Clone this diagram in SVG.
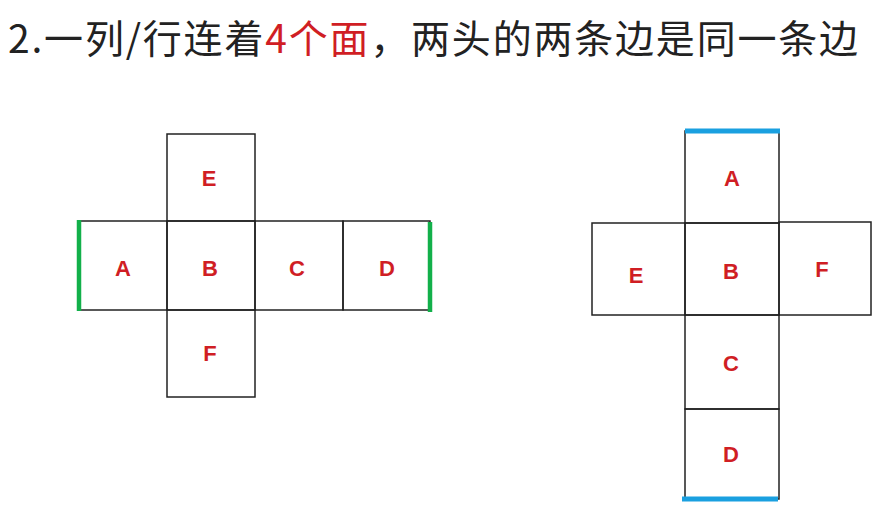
<svg xmlns="http://www.w3.org/2000/svg" width="882" height="518" viewBox="0 0 882 518">
<style>
.cell{fill:none;stroke:#222;stroke-width:1.5}
.lbl{font-family:"Liberation Sans","Noto Sans",sans-serif;font-weight:bold;font-size:22px;fill:#d01e24;text-anchor:middle}
.title{font-family:"Noto Sans CJK SC","Noto Sans",sans-serif;font-size:39px;letter-spacing:1.8px;fill:#222}
.green{stroke:#12b04a;stroke-width:4.5;stroke-linecap:butt}
.blue{stroke:#1aa0e0;stroke-width:5;stroke-linecap:butt}
</style>
<rect width="882" height="518" fill="#ffffff"/>
<text class="title" x="8" y="53">2.一列/行连着<tspan fill="#d01e24">4个面</tspan>，两头的两条边是同一条边</text>
<g id="net1">
  <g id="n1E"><rect class="cell" x="167" y="134" width="88" height="87"/><text class="lbl" x="209" y="186">E</text></g>
  <g id="n1A"><rect class="cell" x="79" y="221" width="88" height="89"/><text class="lbl" x="123" y="276">A</text></g>
  <g id="n1B"><rect class="cell" x="167" y="221" width="88" height="89"/><text class="lbl" x="210" y="276">B</text></g>
  <g id="n1C"><rect class="cell" x="255" y="221" width="88" height="89"/><text class="lbl" x="297" y="276">C</text></g>
  <g id="n1D"><rect class="cell" x="343" y="221" width="87" height="89"/><text class="lbl" x="387" y="276">D</text></g>
  <g id="n1F"><rect class="cell" x="167" y="310" width="88" height="87"/><text class="lbl" x="210" y="361">F</text></g>
</g>
<g id="net2">
  <g id="n2A"><rect class="cell" x="685" y="131" width="94" height="92"/><text class="lbl" x="732" y="186">A</text></g>
  <g id="n2E"><rect class="cell" x="592" y="223" width="93" height="92"/><text class="lbl" x="636" y="283">E</text></g>
  <g id="n2B"><rect class="cell" x="685" y="223" width="94" height="92"/><text class="lbl" x="731" y="279">B</text></g>
  <g id="n2F"><rect class="cell" x="779" y="222" width="92" height="93"/><text class="lbl" x="822" y="277">F</text></g>
  <g id="n2C"><rect class="cell" x="685" y="315" width="94" height="94"/><text class="lbl" x="731" y="371">C</text></g>
  <g id="n2D"><rect class="cell" x="685" y="409" width="94" height="90"/><text class="lbl" x="731" y="462">D</text></g>
</g>
<g id="connectors">
  <line class="green" x1="79" y1="220" x2="79" y2="311"/>
  <line class="green" x1="430" y1="222" x2="430" y2="312"/>
  <line class="blue" x1="685" y1="131" x2="780" y2="131"/>
  <line class="blue" x1="682" y1="499" x2="778" y2="499"/>
</g>
</svg>
